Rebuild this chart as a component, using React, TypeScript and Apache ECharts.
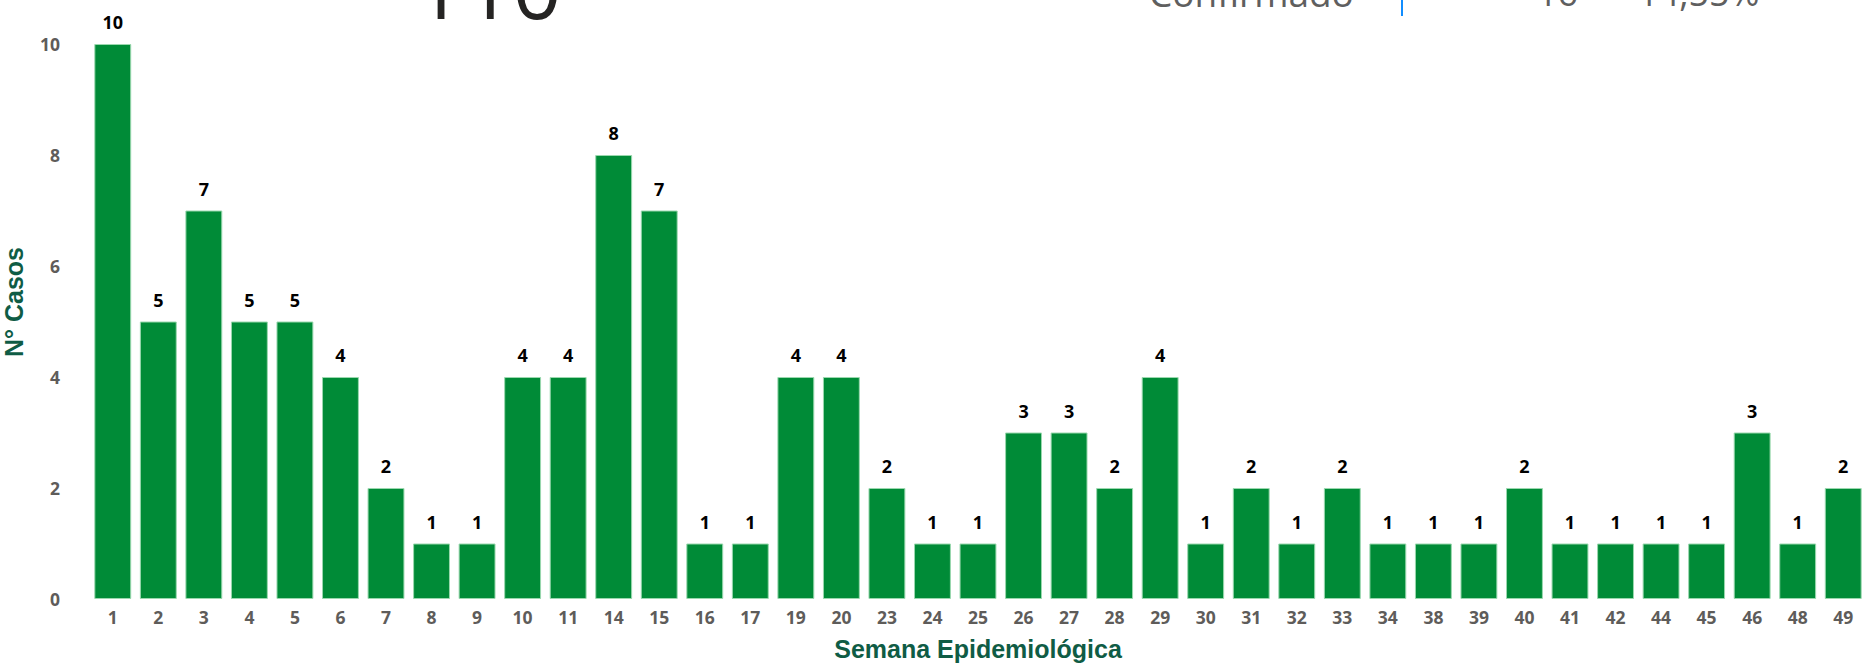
import React, { useEffect, useRef } from "react";
import * as echarts from "echarts";

const weeks: string[] = [
  "1", "2", "3", "4", "5", "6", "7", "8", "9", "10", "11", "14", "15", "16", "17", "19", "20",
  "23", "24", "25", "26", "27", "28", "29", "30", "31", "32", "33", "34", "38", "39", "40",
  "41", "42", "44", "45", "46", "48", "49",
];
const cases: number[] = [
  10, 5, 7, 5, 5, 4, 2, 1, 1, 4, 4, 8, 7, 1, 1, 4, 4,
  2, 1, 1, 3, 3, 2, 4, 1, 2, 1, 2, 1, 1, 1, 2,
  1, 1, 1, 1, 3, 1, 2,
];
const yTicks = { min: 0, max: 10, interval: 2 };
const totalText = "110";
const cardTexts = { status: "Confirmado", count: "16", pct: "14,55%" };
const xTitle = "Semana Epidemiológica";
const yTitle = "N° Casos";

export default function App() {
  const ref = useRef<HTMLDivElement>(null);
  useEffect(() => {
    if (!ref.current) return;
    const chart = echarts.init(ref.current, undefined, { renderer: "svg" });
    const tickFont = "'Open Sans', 'DejaVu Sans', sans-serif";
    chart.setOption({
      animation: false,
      backgroundColor: "#ffffff",
      grid: { left: 90, right: 1, top: 44, bottom: 69, containLabel: false },
      xAxis: {
        type: "category",
        data: weeks,
        axisLine: { show: false },
        axisTick: { show: false },
        axisLabel: {
          color: "#5E5C5A",
          fontFamily: tickFont,
          fontWeight: "bold",
          fontSize: 17.5,
          margin: 9,
          interval: 0,
        },
        name: xTitle,
        nameLocation: "middle",
        nameGap: 37,
        nameTextStyle: {
          color: "#0F5C45",
          fontFamily: "'Liberation Sans', Arial, sans-serif",
          fontWeight: "bold",
          fontSize: 25,
        },
      },
      yAxis: {
        type: "value",
        min: yTicks.min,
        max: yTicks.max,
        interval: yTicks.interval,
        splitLine: { show: false },
        axisLine: { show: false },
        axisTick: { show: false },
        axisLabel: {
          color: "#5E5C5A",
          fontFamily: tickFont,
          fontWeight: "bold",
          fontSize: 17.5,
          margin: 30,
        },
      },
      series: [
        {
          type: "bar",
          data: cases,
          barCategoryGap: "19%",
          itemStyle: { color: "#008B37", borderColor: "#9AD8AE", borderWidth: 1 },
          label: {
            show: true,
            position: "top",
            distance: 13,
            color: "#000000",
            fontFamily: tickFont,
            fontWeight: "bold",
            fontSize: 18,
          },
        },
      ],
      graphic: [
        {
          type: "text",
          x: 14,
          y: 302,
          rotation: Math.PI / 2,
          style: {
            text: yTitle,
            fill: "#0F5C45",
            font: "bold 25px 'Liberation Sans', Arial, sans-serif",
            align: "center",
            verticalAlign: "middle",
          },
        },
        {
          type: "text",
          x: 488,
          y: -15,
          style: {
            text: totalText,
            fill: "#252423",
            font: "86px 'Open Sans', sans-serif",
            align: "center",
            verticalAlign: "middle",
          },
        },
        {
          type: "text",
          x: 1149,
          y: -8,
          style: {
            text: cardTexts.status,
            fill: "#5F5F5F",
            font: "37px 'Open Sans', sans-serif",
            align: "left",
            verticalAlign: "middle",
          },
        },
        {
          type: "line",
          shape: { x1: 1402, y1: 0, x2: 1402, y2: 16 },
          style: { stroke: "#118DFF", lineWidth: 2 },
        },
        {
          type: "text",
          x: 1537,
          y: -8,
          style: {
            text: cardTexts.count,
            fill: "#5F5F5F",
            font: "36px 'Open Sans', sans-serif",
            align: "left",
            verticalAlign: "middle",
          },
        },
        {
          type: "text",
          x: 1638,
          y: -8,
          style: {
            text: cardTexts.pct,
            fill: "#5F5F5F",
            font: "36px 'Open Sans', sans-serif",
            align: "left",
            verticalAlign: "middle",
          },
        },
      ],
    });
    return () => chart.dispose();
  }, []);
  return (
    <div
      ref={ref}
      style={{ position: "absolute", left: 0, top: 0, width: 1867, height: 668, background: "#fff" }}
    />
  );
}
